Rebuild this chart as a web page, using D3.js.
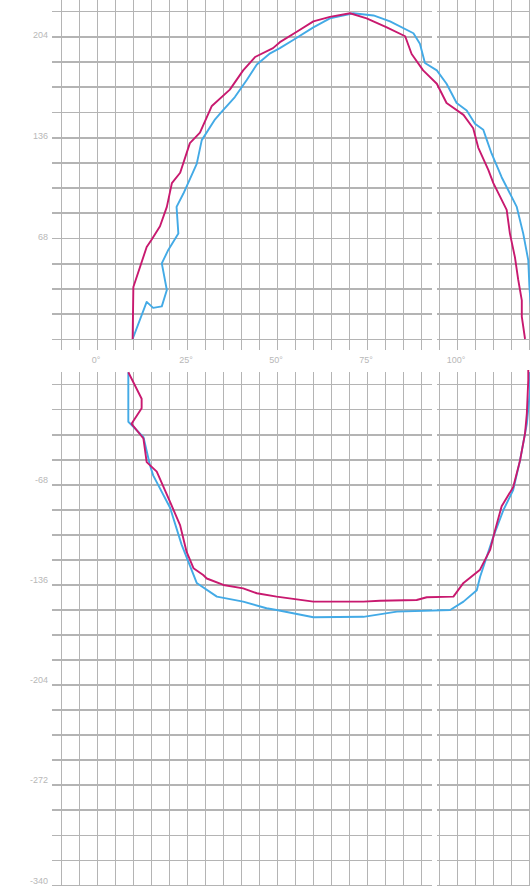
<!DOCTYPE html>
<html>
<head>
<meta charset="utf-8">
<script src="https://cdn.jsdelivr.net/npm/d3@7"></script>
<style>
    html, body { margin: 0; padding: 0; background: #fff; }
    svg { display: block; }
    .grid line { stroke: #b4b4b4; stroke-width: 1.8; shape-rendering: crispEdges; }
    .grid path { display: none; }
    .lbl { font-family: "Liberation Sans", Arial, sans-serif; font-size: 9px; fill: #b8b8b8; }
    .curve { fill: none; stroke-width: 1.9; stroke-linejoin: round; }
</style>
</head>
<body>
<div id="chart"></div>
<script>
// x in degrees, y in chart units (upper loop, lower loop)
const xTicks = [0, 25, 50, 75, 100];
const yTicksTop = [68, 136, 204];
const yTicksBottom = [-68, -136, -204, -272, -340];

const magentaTop = [
    [9.9, 0], [10.1, 35], [13.8, 62], [15.2, 67], [17.5, 76], [19.4, 89], [20.8, 105],
    [23.1, 112], [25.8, 132], [28.6, 139], [31.9, 157], [36.9, 168], [40.6, 181],
    [43.9, 190], [48.9, 196], [50.8, 200], [55.5, 207], [60.1, 214], [64.7, 217],
    [70.3, 219.5], [74.9, 216], [80.5, 210], [85.6, 204], [87.4, 192], [90.6, 181],
    [94.4, 172], [97.1, 159], [101.8, 151], [104.5, 142], [105.9, 129], [108.7, 114],
    [110.1, 105], [113.8, 87], [114.7, 71], [116.1, 55], [117, 40], [118, 26],
    [118, 15], [118.9, 0]
];
const blueTop = [
    [9.9, 0], [13.8, 25], [15.6, 21], [18, 22], [19.4, 33], [18, 51], [19.8, 60],
    [22.6, 71], [22.1, 89], [24, 98], [27.7, 118], [29.1, 134], [32.8, 148],
    [34.6, 153], [38.3, 163], [41.6, 174.5], [44.4, 185], [48.1, 192.5], [50.8, 196],
    [54.5, 201.5], [60.1, 210], [64.7, 216], [71.2, 219.5], [76.8, 218], [81.4, 214],
    [87.9, 206], [89.7, 199], [91.1, 186], [94.4, 181], [97.1, 172], [99.9, 159],
    [102.7, 154], [105, 145], [107.3, 141], [108.3, 134], [109.6, 125], [112.4, 109],
    [116.6, 89], [118.4, 71], [119.8, 53], [120.1, 36], [120.6, 19.5], [120.8, 0]
];
const magentaBottom = [
    [8.7, 8], [12.4, -10], [12.4, -16.5], [9.6, -27], [12.9, -37], [13.8, -53],
    [16.6, -59.5], [20.3, -80], [23.1, -96], [24.9, -114], [26.8, -125], [29.5, -129.6],
    [30.5, -132], [35.1, -136.4], [40.6, -138.7], [44.4, -142], [49.9, -144.3],
    [60.1, -147.7], [74, -147.7], [78.6, -147.1], [88.8, -146.6], [91.6, -144.7],
    [99, -144.3], [101.8, -135], [106.4, -126], [109.2, -112.6], [110.6, -99],
    [112.4, -83], [115.6, -70], [117.5, -52], [118.9, -33.5], [119.4, -20],
    [119.8, 2.7], [119.8, 9.5]
];
const blueBottom = [
    [8.7, 8], [8.7, -25.6], [10.1, -29], [12.9, -36], [14.7, -55], [15.6, -62],
    [20.3, -84], [23.5, -109], [27.7, -135], [33.3, -144.3], [40.6, -147.7],
    [47.1, -152.2], [49.9, -153.4], [60.1, -158.3], [74, -158], [83.3, -154.5],
    [98.1, -153.4], [101.8, -147.7], [105.5, -140], [106.4, -131], [110.1, -103.6],
    [112.9, -85.5], [115.6, -72], [117.5, -52], [119.4, -27], [120.3, -4], [120.3, 8]
];

const width = 530, height = 886;
const magenta = '#c8196f', blue = '#43aae6';

const svg = d3.select('#chart').append('svg')
    .attr('width', width)
    .attr('height', height);

const x = d3.scaleLinear().domain([-10, 120]).range([61, 529]);
const yTop = d3.scaleLinear().domain([0, 221]).range([339, 11]);
const yBot = d3.scaleLinear().domain([0, -340]).range([384, 885]);

// horizontal lines have a small break just left of the 95 deg line
const gapL = 432, gapR = 437;

function drawPanel(y, gridVals, top, bottom) {
    const g = svg.append('g');

    // vertical grid every 5 deg
    g.append('g')
        .attr('class', 'grid')
        .attr('transform', `translate(0,${bottom})`)
        .call(d3.axisBottom(x)
            .tickValues(d3.range(-10, 121, 5))
            .tickSize(top - bottom)
            .tickFormat(''));

    // horizontal grid every 17 units, drawn in two pieces
    [[52, gapL], [gapR, width]].forEach(([a, b]) => {
        g.append('g')
            .attr('class', 'grid')
            .attr('transform', `translate(${b},0)`)
            .call(d3.axisLeft(y)
                .tickValues(gridVals)
                .tickSize(b - a)
                .tickFormat(''));
    });
}

drawPanel(yTop, d3.range(0, 222, 17), 0, 350);
drawPanel(yBot, d3.range(0, -341, -17), 372, height);

// y labels
svg.selectAll('.ylTop')
    .data(yTicksTop)
    .join('text')
    .attr('class', 'lbl')
    .attr('x', 48)
    .attr('y', d => yTop(d) + 1.5)
    .attr('text-anchor', 'end')
    .text(d => d);

svg.selectAll('.ylBot')
    .data(yTicksBottom)
    .join('text')
    .attr('class', 'lbl')
    .attr('x', 48)
    .attr('y', d => yBot(d) - 1.5)
    .attr('text-anchor', 'end')
    .text(d => d);

// x labels in the band between the panels
svg.selectAll('.xl')
    .data(xTicks)
    .join('text')
    .attr('class', 'lbl')
    .attr('x', d => x(d) - 1)
    .attr('y', 363)
    .attr('text-anchor', 'middle')
    .text(d => d + '°');

// curves
const lineTop = d3.line().x(d => x(d[0])).y(d => yTop(d[1]));
const lineBot = d3.line().x(d => x(d[0])).y(d => yBot(d[1]));

svg.append('path').attr('class', 'curve').attr('stroke', blue).attr('d', lineTop(blueTop));
svg.append('path').attr('class', 'curve').attr('stroke', magenta).attr('d', lineTop(magentaTop));
svg.append('path').attr('class', 'curve').attr('stroke', blue).attr('d', lineBot(blueBottom));
svg.append('path').attr('class', 'curve').attr('stroke', magenta).attr('d', lineBot(magentaBottom));
</script>
</body>
</html>
